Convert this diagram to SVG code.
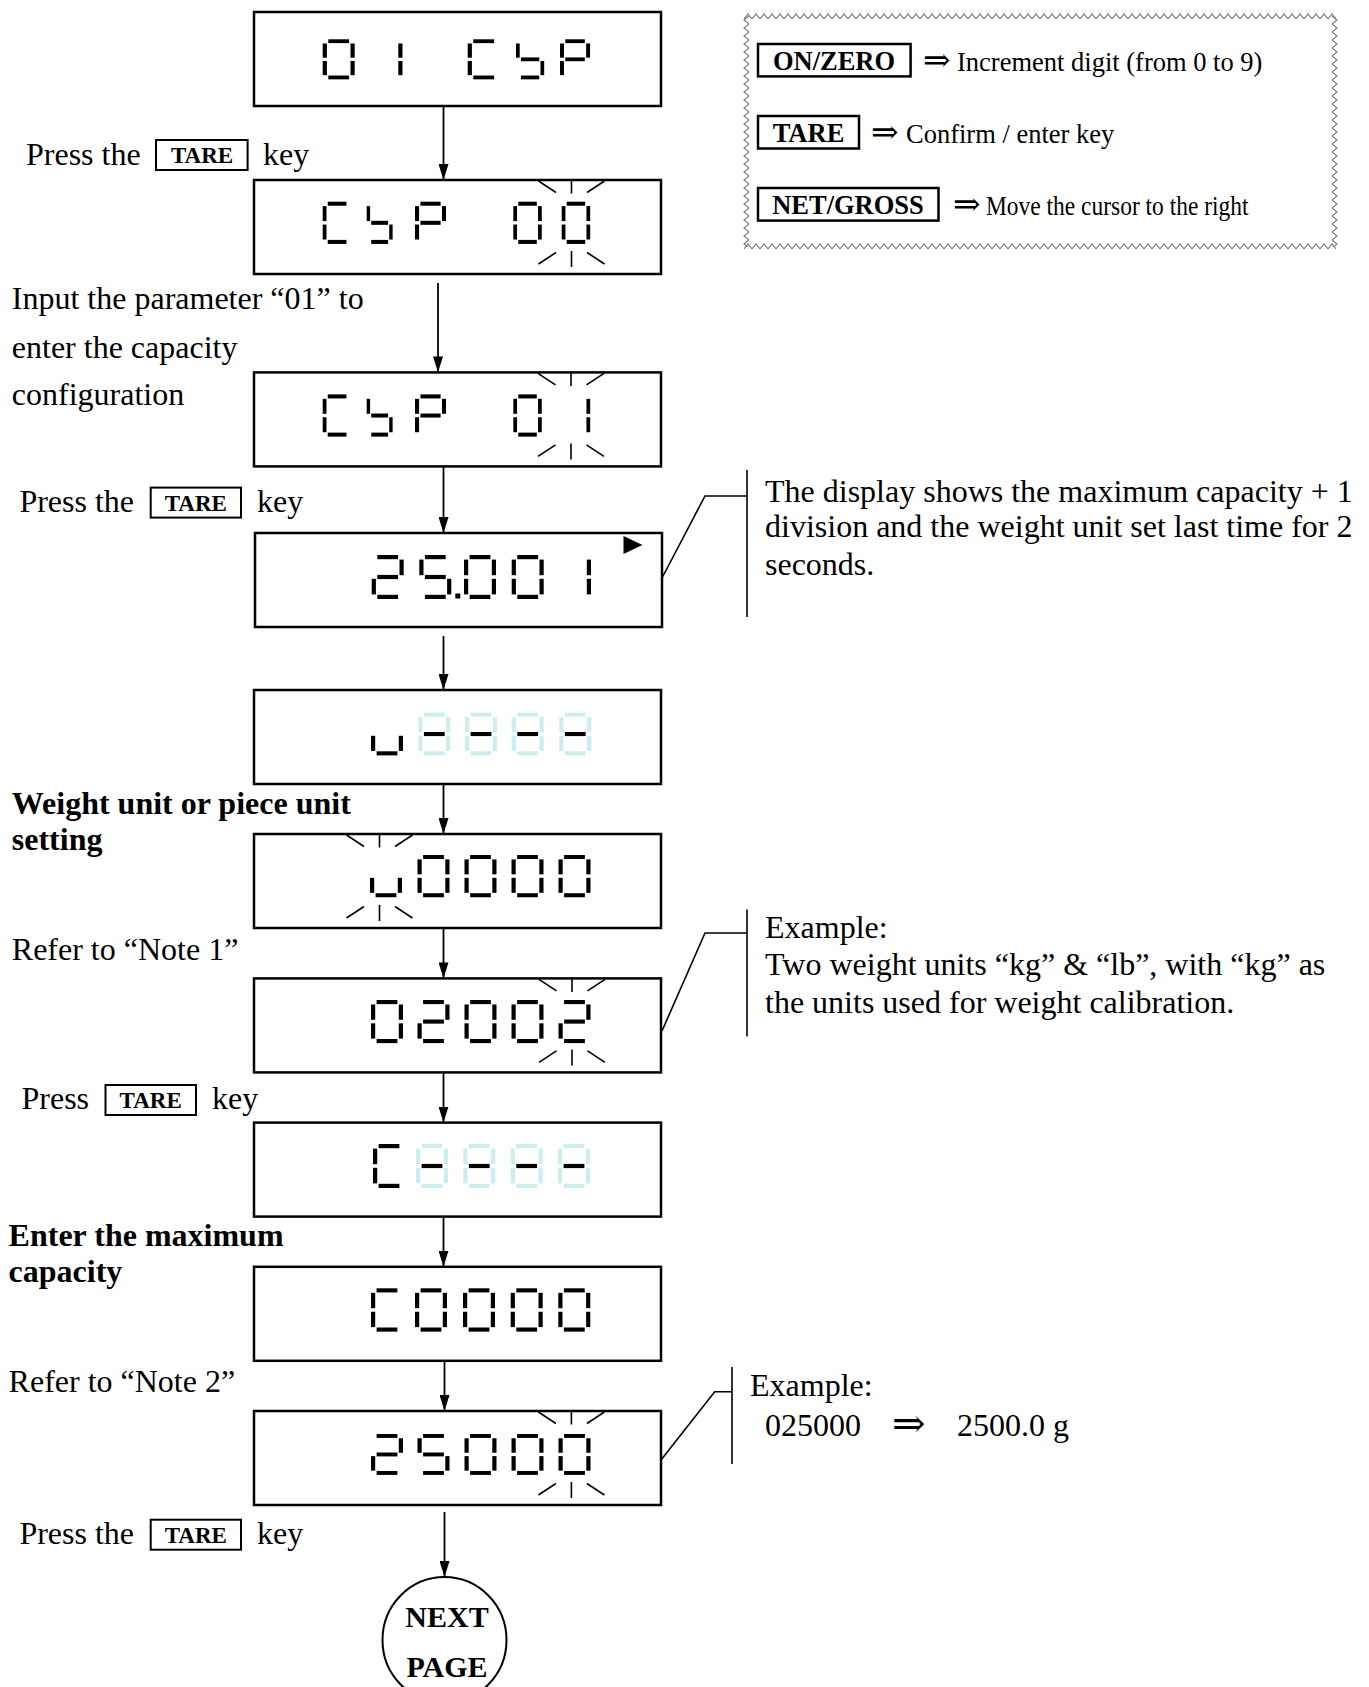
<svg xmlns="http://www.w3.org/2000/svg" width="1369" height="1687" viewBox="0 0 1369 1687">
<style>
.box{fill:#fff;stroke:#000;stroke-width:2.5}
.t{font-family:"Liberation Serif","Times New Roman","DejaVu Serif",serif;font-size:32px;fill:#000}
.b{font-weight:bold}
.kt{font-family:"Liberation Serif","Times New Roman",serif;font-weight:bold;font-size:23px;text-anchor:middle}
.lk{font-family:"Liberation Serif","Times New Roman",serif;font-weight:bold;font-size:26.5px;text-anchor:middle}
.lt{font-family:"Liberation Serif","Times New Roman","DejaVu Serif",serif;font-size:26.5px}
.arr{font-family:"DejaVu Serif","Liberation Serif",serif}
.key{fill:none;stroke:#000;stroke-width:2}
.lkey{fill:none;stroke:#000;stroke-width:2.5}
.conn{stroke:#000;stroke-width:1.8;fill:none}
.co{stroke:#000;stroke-width:1.6;fill:none}
.ray{stroke:#000;stroke-width:1.6;fill:none}
.zz{stroke:#7a7a7a;stroke-width:1.2;fill:none}
</style>
<defs>
<marker id="ah" markerUnits="userSpaceOnUse" markerWidth="16" markerHeight="10" refX="16" refY="5" orient="auto"><path d="M0,0 L16,5 L0,10 z" fill="#000"/></marker>
<rect id="sa" x="5.6" y="0" width="20.8" height="4.2"/>
<rect id="sb" x="27.8" y="4.6" width="4.2" height="15.6"/>
<rect id="sc" x="27.8" y="23.8" width="4.2" height="15.6"/>
<rect id="sd" x="5.6" y="39.8" width="20.8" height="4.2"/>
<rect id="se" x="0" y="23.8" width="4.2" height="15.6"/>
<rect id="sf" x="0" y="4.6" width="4.2" height="15.6"/>
<rect id="sg" x="5.6" y="19.9" width="20.8" height="4.2"/>
<g id="d0"><use href="#sa"/><use href="#sb"/><use href="#sc"/><use href="#sd"/><use href="#se"/><use href="#sf"/></g>
<g id="d1"><use href="#sb"/><use href="#sc"/></g>
<g id="d2"><use href="#sa"/><use href="#sb"/><use href="#sg"/><use href="#se"/><use href="#sd"/></g>
<g id="d5"><use href="#sa"/><use href="#sf"/><use href="#sg"/><use href="#sc"/><use href="#sd"/></g>
<g id="dC"><use href="#sa"/><use href="#sf"/><use href="#se"/><use href="#sd"/></g>
<g id="ds"><use href="#sf"/><use href="#sg"/><use href="#sc"/><use href="#sd"/></g>
<g id="dP"><use href="#sa"/><use href="#sb"/><use href="#sf"/><use href="#sg"/><use href="#se"/></g>
<g id="du"><use href="#se"/><use href="#sd"/><use href="#sc"/></g>
<g id="d8"><g fill="#cdeeee"><use href="#sa"/><use href="#sb"/><use href="#sc"/><use href="#sd"/><use href="#se"/><use href="#sf"/></g><use href="#sg" fill="#000"/></g>
<g id="rays">
<path class="ray" d="M0,-1 V13.5 M-33,1 L-15.5,12.5 M33,1 L15.5,12.5 M0,71 V87 M-33,84 L-15.5,72.5 M33,84 L15.5,72.5"/>
</g>
<pattern id="zt" x="744" y="13" width="8" height="7" patternUnits="userSpaceOnUse"><path class="zz" d="M0,6 L4,1 L8,6"/></pattern>
<pattern id="zb" x="744" y="243" width="8" height="7" patternUnits="userSpaceOnUse"><path class="zz" d="M0,6 L4,1 L8,6"/></pattern>
<pattern id="zl" x="743" y="16" width="7" height="8" patternUnits="userSpaceOnUse"><path class="zz" d="M6,0 L1,4 L6,8"/></pattern>
<pattern id="zr" x="1331" y="16" width="7" height="8" patternUnits="userSpaceOnUse"><path class="zz" d="M1,0 L6,4 L1,8"/></pattern>
</defs>
<rect width="1369" height="1687" fill="#fff"/>

<g id="legend">
<rect x="744" y="13" width="592" height="7" fill="url(#zt)"/>
<rect x="744" y="243" width="592" height="7" fill="url(#zb)"/>
<rect x="743" y="16" width="7" height="231" fill="url(#zl)"/>
<rect x="1331" y="16" width="7" height="231" fill="url(#zr)"/>
<rect class="lkey" x="758" y="44" width="152.6" height="32.4"/>
<text class="lk" x="834" y="69.5">ON/ZERO</text>
<text class="lt arr" x="923" y="70.5" style="font-size:33px">⇒</text>
<text class="lt" x="957" y="70.5">Increment digit (from 0 to 9)</text>
<rect class="lkey" x="758" y="116" width="101" height="32.5"/>
<text class="lk" x="808.5" y="141.5">TARE</text>
<text class="lt arr" x="871" y="142.5" style="font-size:33px">⇒</text>
<text class="lt" x="906" y="142.5">Confirm / enter key</text>
<rect class="lkey" x="758" y="188" width="180.5" height="32.6"/>
<text class="lk" x="848" y="213.5">NET/GROSS</text>
<text class="lt arr" x="953" y="214.5" style="font-size:33px">⇒</text>
<text class="lt" x="986" y="214.5" textLength="262.5" lengthAdjust="spacingAndGlyphs">Move the cursor to the right</text>
</g>

<g id="labels">
<text class="t" x="26" y="165">Press the</text>
<rect class="key" x="156" y="140" width="91.6" height="30"/>
<text class="kt" x="202" y="163">TARE</text>
<text class="t" x="263" y="165">key</text>
<text class="t" x="11.8" y="309">Input the parameter “01” to</text>
<text class="t" x="11.8" y="357.6">enter the capacity</text>
<text class="t" x="11.8" y="405">configuration</text>
<text class="t" x="19.4" y="511.6">Press the</text>
<rect class="key" x="150.7" y="487.6" width="90.3" height="30"/>
<text class="kt" x="195.8" y="510.6">TARE</text>
<text class="t" x="257" y="511.6">key</text>
<text class="t b" x="11.8" y="814">Weight unit or piece unit</text>
<text class="t b" x="11.8" y="849.5">setting</text>
<text class="t" x="11.8" y="960">Refer to “Note 1”</text>
<text class="t" x="21.5" y="1109">Press</text>
<rect class="key" x="105.5" y="1085" width="90.5" height="30"/>
<text class="kt" x="150.7" y="1108">TARE</text>
<text class="t" x="212" y="1109">key</text>
<text class="t b" x="8.6" y="1245.6">Enter the maximum</text>
<text class="t b" x="8.6" y="1282">capacity</text>
<text class="t" x="8.6" y="1392">Refer to “Note 2”</text>
<text class="t" x="19.4" y="1544">Press the</text>
<rect class="key" x="150.7" y="1519.7" width="90.3" height="30"/>
<text class="kt" x="195.8" y="1542.7">TARE</text>
<text class="t" x="257" y="1544">key</text>
</g>

<g id="box1">
<rect class="box" x="254" y="12" width="407" height="94"/>
<use href="#d0" transform="translate(322.7,39.3) scale(1,0.91)"/>
<use href="#d1" transform="translate(370.5,39.3) scale(1,0.91)"/>
<use href="#dC" transform="translate(467.7,39.3) scale(1,0.91)"/>
<use href="#ds" transform="translate(516,39.3) scale(0.88,0.91)"/>
<use href="#dP" transform="translate(560,39.3) scale(0.94,0.91)"/>
</g>
<g id="box2">
<rect class="box" x="254" y="180" width="407" height="94"/>
<use href="#dC" transform="translate(322.7,201.7) scale(0.9,0.96)"/>
<use href="#ds" transform="translate(366.7,201.7) scale(0.81,0.96)"/>
<use href="#dP" transform="translate(415,201.7) scale(0.97,0.96)"/>
<use href="#d0" transform="translate(513.3,201.7) scale(0.89,0.96)"/>
<use href="#d0" transform="translate(561.7,201.7) scale(0.89,0.96)"/>
<use href="#rays" x="571.5" y="180"/>
</g>
<g id="box3">
<rect class="box" x="254" y="372.4" width="407" height="94"/>
<use href="#dC" transform="translate(322.7,394.4) scale(0.9,0.96)"/>
<use href="#ds" transform="translate(366.7,394.4) scale(0.81,0.96)"/>
<use href="#dP" transform="translate(415,394.4) scale(0.97,0.96)"/>
<use href="#d0" transform="translate(513.3,394.4) scale(0.89,0.96)"/>
<use href="#d1" transform="translate(561.7,394.4) scale(0.89,0.96)"/>
<use href="#rays" x="571" y="372.4"/>
</g>
<g id="box4">
<rect class="box" x="255" y="533" width="407" height="94"/>
<use href="#d2" x="371.7" y="555"/>
<use href="#d5" x="419.3" y="555"/>
<rect x="455.3" y="593.5" width="5" height="5"/>
<use href="#d0" x="464" y="555"/>
<use href="#d0" x="511.7" y="555"/>
<use href="#d1" x="559" y="555"/>
<polygon points="623.5,536 642.5,545 623.5,554"/>
</g>
<g id="box5">
<rect class="box" x="254" y="690" width="407" height="94"/>
<use href="#du" transform="translate(371,712.7) scale(1,0.97)"/>
<use href="#d8" transform="translate(418.3,712.7) scale(1,0.97)"/>
<use href="#d8" transform="translate(465,712.7) scale(1,0.97)"/>
<use href="#d8" transform="translate(511.7,712.7) scale(1,0.97)"/>
<use href="#d8" transform="translate(559.3,712.7) scale(1,0.97)"/>
</g>
<g id="box6">
<rect class="box" x="254" y="834" width="407" height="94"/>
<use href="#du" transform="translate(370,855) scale(1,0.96)"/>
<use href="#d0" transform="translate(417.5,855) scale(1,0.96)"/>
<use href="#d0" transform="translate(464.5,855) scale(1,0.96)"/>
<use href="#d0" transform="translate(511.5,855) scale(1,0.96)"/>
<use href="#d0" transform="translate(558.5,855) scale(1,0.96)"/>
<use href="#rays" x="379.5" y="834"/>
</g>
<g id="box7">
<rect class="box" x="254" y="978.4" width="407" height="94"/>
<use href="#d0" transform="translate(371,1000) scale(1,0.98)"/>
<use href="#d2" transform="translate(417.5,1000) scale(1,0.98)"/>
<use href="#d0" transform="translate(464.5,1000) scale(1,0.98)"/>
<use href="#d0" transform="translate(511.5,1000) scale(1,0.98)"/>
<use href="#d2" transform="translate(558.5,1000) scale(1,0.98)"/>
<use href="#rays" x="572" y="978.4"/>
</g>
<g id="box8">
<rect class="box" x="254" y="1122.6" width="407" height="94"/>
<use href="#dC" x="373" y="1144"/>
<use href="#d8" x="416" y="1144"/>
<use href="#d8" x="463.3" y="1144"/>
<use href="#d8" x="510.7" y="1144"/>
<use href="#d8" x="558" y="1144"/>
</g>
<g id="box9">
<rect class="box" x="254" y="1266.8" width="407" height="94"/>
<use href="#dC" transform="translate(371,1288.3) scale(1,0.985)"/>
<use href="#d0" transform="translate(415,1288.3) scale(1,0.985)"/>
<use href="#d0" transform="translate(463,1288.3) scale(1,0.985)"/>
<use href="#d0" transform="translate(510.7,1288.3) scale(1,0.985)"/>
<use href="#d0" transform="translate(558.3,1288.3) scale(1,0.985)"/>
</g>
<g id="box10">
<rect class="box" x="254" y="1411" width="407" height="94"/>
<use href="#d2" transform="translate(371,1434) scale(1,0.93)"/>
<use href="#d5" transform="translate(417.5,1434) scale(1,0.93)"/>
<use href="#d0" transform="translate(464.5,1434) scale(1,0.93)"/>
<use href="#d0" transform="translate(511.5,1434) scale(1,0.93)"/>
<use href="#d0" transform="translate(558.5,1434) scale(1,0.93)"/>
<use href="#rays" x="571.4" y="1411"/>
</g>
<g id="nextpage">
<ellipse cx="444.5" cy="1640" rx="62" ry="63" fill="#fff" stroke="#000" stroke-width="2"/>
<text class="t b" x="447" y="1627" text-anchor="middle" style="font-size:30px">NEXT</text>
<text class="t b" x="447" y="1677" text-anchor="middle" style="font-size:30px">PAGE</text>
</g>

<g id="callouts">
<polyline class="co" points="662,578 705,496 747,496"/>
<line class="co" x1="747" y1="470" x2="747" y2="617"/>
<text class="t" x="765" y="502">The display shows the maximum capacity + 1</text>
<text class="t" x="765" y="537.4">division and the weight unit set last time for 2</text>
<text class="t" x="765" y="575">seconds.</text>
<polyline class="co" points="662,1031 705,933 747,933"/>
<line class="co" x1="747" y1="909.5" x2="747" y2="1036.5"/>
<text class="t" x="765" y="938">Example:</text>
<text class="t" x="765" y="975.4">Two weight units “kg” &amp; “lb”, with “kg” as</text>
<text class="t" x="765" y="1013">the units used for weight calibration.</text>
<polyline class="co" points="661,1460 714.7,1391.7 732,1391.7"/>
<line class="co" x1="732" y1="1367" x2="732" y2="1464"/>
<text class="t" x="750" y="1396">Example:</text>
<text class="t" x="765" y="1436">025000</text>
<text class="t arr" x="892" y="1437" style="font-size:40px">⇒</text>
<text class="t" x="957" y="1436">2500.0 g</text>
</g>

<g id="connectors">
<line class="conn" x1="443.5" y1="106" x2="443.5" y2="180" marker-end="url(#ah)"/>
<line class="conn" x1="438" y1="283" x2="438" y2="372.4" marker-end="url(#ah)"/>
<line class="conn" x1="443.5" y1="466.4" x2="443.5" y2="533" marker-end="url(#ah)"/>
<line class="conn" x1="443.5" y1="636" x2="443.5" y2="690" marker-end="url(#ah)"/>
<line class="conn" x1="443.5" y1="784" x2="443.5" y2="834" marker-end="url(#ah)"/>
<line class="conn" x1="443.5" y1="928" x2="443.5" y2="978.4" marker-end="url(#ah)"/>
<line class="conn" x1="443.5" y1="1072.4" x2="443.5" y2="1122.6" marker-end="url(#ah)"/>
<line class="conn" x1="443.5" y1="1216.6" x2="443.5" y2="1266.8" marker-end="url(#ah)"/>
<line class="conn" x1="444.5" y1="1362" x2="444.5" y2="1411" marker-end="url(#ah)"/>
<line class="conn" x1="444.5" y1="1512" x2="444.5" y2="1577" marker-end="url(#ah)"/>
</g>
</svg>
